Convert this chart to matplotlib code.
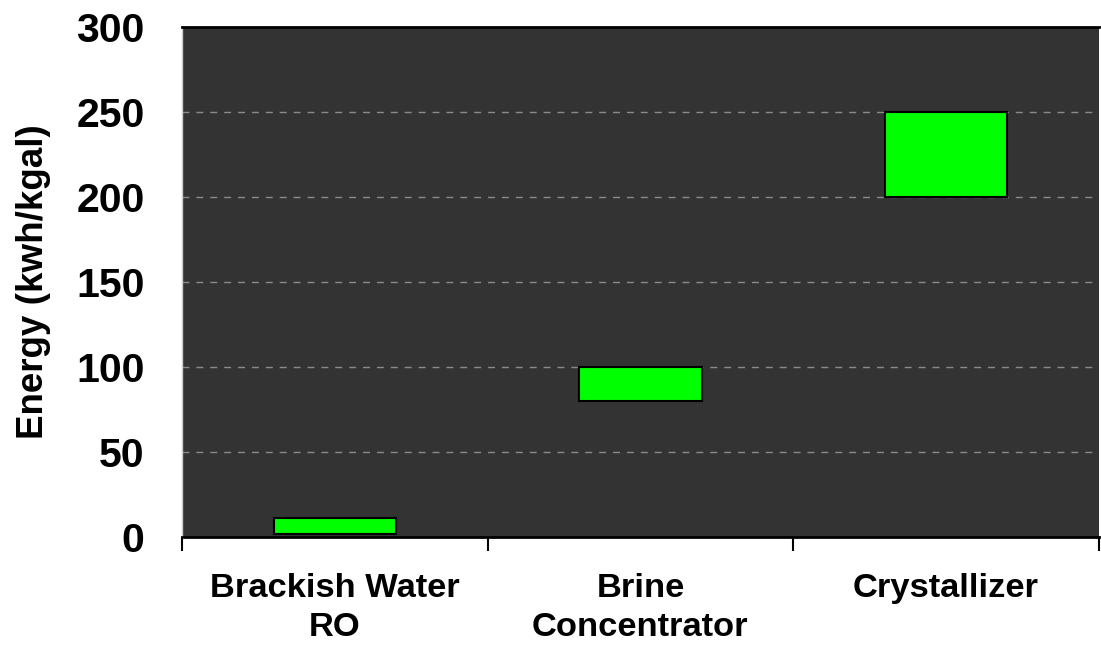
import matplotlib
matplotlib.use("Agg")
import matplotlib.pyplot as plt

categories = ["Brackish Water\nRO", "Brine\nConcentrator", "Crystallizer"]
low_values = [2, 80, 200]
high_values = [11, 100, 250]
y_ticks = [0, 50, 100, 150, 200, 250, 300]

plt.rcParams['font.family'] = ['Liberation Sans', 'DejaVu Sans']
plt.rcParams['font.weight'] = 'bold'

fig = plt.figure(figsize=(11.01, 6.45), dpi=100)
ax = fig.add_axes([0.1653, 0.1674, 0.998 - 0.1653, 0.958 - 0.1674])
ax.set_facecolor('#333333')

x = list(range(len(categories)))
heights = [h - l for l, h in zip(low_values, high_values)]
ax.bar(x, heights, bottom=low_values, width=0.4, color='#00ff00',
       edgecolor='black', linewidth=1.5, zorder=3)

ax.set_xlim(-0.5, len(categories) - 0.5)
ax.set_ylim(0, 300)
ax.set_yticks(y_ticks)
ax.set_yticklabels([str(v) for v in y_ticks], fontsize=29.5, fontweight='bold')
ax.tick_params(axis='y', length=0, pad=27)

ax.set_xticks(x)
ax.set_xticklabels(categories, fontsize=24.8, fontweight='bold', linespacing=1.33)
ax.tick_params(axis='x', which='major', length=0, pad=26)
ax.set_xticks([i - 0.5 for i in range(len(categories) + 1)], minor=True)
ax.tick_params(axis='x', which='minor', length=10, width=1.5, color='black', direction='out')

for v in y_ticks[1:-1]:
    ax.axhline(v, color='#8a8a8a', linestyle=(0, (5, 5)), linewidth=1.0, zorder=1)

ax.spines['top'].set_color('black')
ax.spines['top'].set_linewidth(2)
ax.spines['bottom'].set_color('black')
ax.spines['bottom'].set_linewidth(2)
ax.spines['left'].set_color('#cccccc')
ax.spines['left'].set_linewidth(1)
ax.spines['right'].set_visible(False)

ax.set_ylabel("Energy (kwh/kgal)", fontsize=26.5, fontweight='bold')
ax.yaxis.set_label_coords(-0.143, 0.5)

fig.savefig("out.png", dpi=100)
